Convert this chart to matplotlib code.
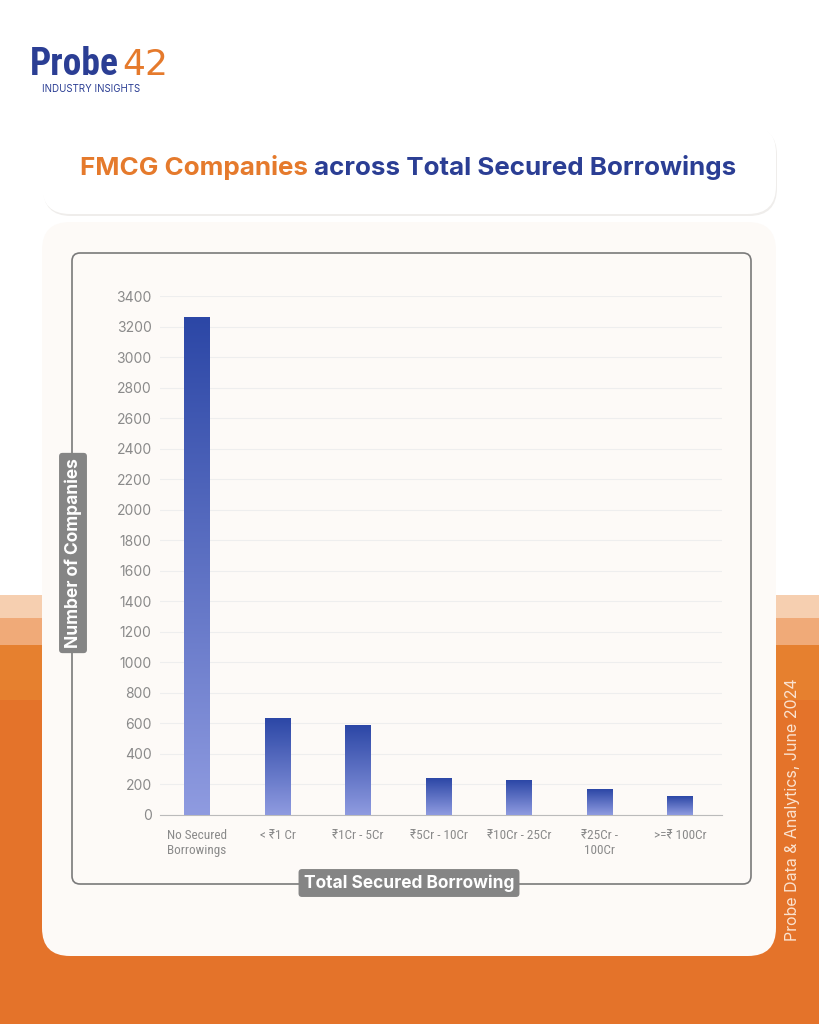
import matplotlib
matplotlib.use("Agg")
import matplotlib.pyplot as plt
import numpy as np
from matplotlib.patches import FancyBboxPatch, Rectangle

categories = ["No Secured\nBorrowings", "< ₹1 Cr", "₹1Cr - 5Cr", "₹5Cr - 10Cr", "₹10Cr - 25Cr", "₹25Cr -\n100Cr", ">=₹ 100Cr"]
values = [3260, 629, 585, 242, 223, 164, 118]
yticks = list(range(0, 3401, 200))

plt.rcParams['font.family'] = ['Inter', 'DejaVu Sans']
W, H = 819, 1024
fig = plt.figure(figsize=(W/100, H/100), dpi=100)
bg = fig.add_axes([0, 0, 1, 1])
bg.set_xlim(0, W); bg.set_ylim(H, 0); bg.axis('off')

def rbox(x, y, w, h, r, fc, ec='none', lw=0, z=1):
    p = FancyBboxPatch((x, y), w, h, boxstyle=f"round,pad=0,rounding_size={r}", fc=fc, ec=ec, lw=lw, zorder=z)
    bg.add_patch(p)

# orange background layers
rbox(-60, 595, W+120, 500, 50, '#f6cfb0', z=0.1)
rbox(-60, 618, W+120, 500, 50, '#f0aa78', z=0.2)
rbox(-60, 645, W+120, 500, 50, '#e6802f', z=0.3)
bg.add_patch(Rectangle((0, 700), W, 330, fc='#e4732a', zorder=0.4))

# cards
rbox(43, 127, 734, 89, 28, '#efedeb', z=0.9)
rbox(42, 125, 734, 89, 28, 'white', z=1)
rbox(42, 222, 734, 734, 28, '#fdfaf7', z=1)
rbox(72, 253, 679, 631, 8, 'none', ec='#7a7a7a', lw=1.2, z=2)

# logo
bg.text(30, 75, "Probe", fontsize=27, color='#2b3e94', fontweight='bold', family=['Roboto Condensed', 'Liberation Sans Narrow', 'DejaVu Sans'], va='baseline', zorder=3)
bg.text(122, 75, "42", fontsize=26, color='#e57a2c', va='baseline', family=['Liberation Sans Narrow', 'DejaVu Sans'], zorder=3)
bg.text(42, 92, "INDUSTRY INSIGHTS", fontsize=7, color='#2b3e94', va='baseline', zorder=3)

# title
t1 = bg.text(80, 168, "FMCG Companies ", fontsize=18.7, color='#e57a2c', fontweight='bold', va='center', zorder=3)
fig.canvas.draw()
bb = t1.get_window_extent()
bg.text(80 + bb.width, 168, "across Total Secured Borrowings", fontsize=18.7, color='#2b3e94', fontweight='bold', va='center', zorder=3)

# side text
bg.text(792, 810, "Probe Data & Analytics, June 2024", rotation=90, fontsize=11.5, color='#fbe3d0', ha='center', va='center', zorder=3)

# chart axes
x0, x1, y0, y1 = 160, 722, 296, 815
ax = fig.add_axes([x0/W, 1-y1/H, (x1-x0)/W, (y1-y0)/H], zorder=5)
ax.patch.set_alpha(0)
n = len(values)
xs = np.arange(n)
bw = 0.32
cmap = matplotlib.colors.LinearSegmentedColormap.from_list('g', ['#8f9be0', '#2c47a6'])
grad = np.linspace(0, 1, 256).reshape(-1, 1)
for xi, v in zip(xs, values):
    ax.imshow(grad, extent=[xi-bw/2, xi+bw/2, 0, v], origin='lower', cmap=cmap, aspect='auto', zorder=3)
ax.set_aspect('auto')
ax.set_xlim(-0.46, n-0.48)
ax.set_ylim(0, 3400)
ax.set_yticks(yticks)
ax.set_yticklabels([str(t) for t in yticks], fontsize=10, color='#8a8a8a')
ax.set_xticks(xs)
ax.set_xticklabels(categories, fontsize=9.5, color='#8a8a8a', family=['Roboto Condensed', 'Liberation Sans Narrow', 'Inter', 'DejaVu Sans'])
ax.tick_params(length=0, pad=6)
ax.tick_params(axis='x', pad=10)
ax.grid(axis='y', color='#eeeeee', lw=0.8, zorder=0)
for s in ['top', 'right', 'left']:
    ax.spines[s].set_visible(False)
ax.spines['bottom'].set_color('#bbbbbb')

# axis labels with boxes
bg.text(73, 553, "Number of Companies", rotation=90, fontsize=12.5, color='white', fontweight='bold', ha='center', va='center', zorder=6,
        bbox=dict(boxstyle='round,pad=0.3,rounding_size=0.2', fc='#858585', ec='none'))
bg.text(409, 883, "Total Secured Borrowing", fontsize=12.5, color='white', fontweight='bold', ha='center', va='center', zorder=6,
        bbox=dict(boxstyle='round,pad=0.3,rounding_size=0.2', fc='#858585', ec='none'))

fig.savefig("out.png", dpi=100)
